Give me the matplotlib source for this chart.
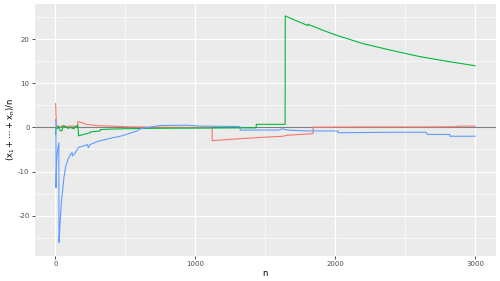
import matplotlib
matplotlib.use('Agg')
import matplotlib.pyplot as plt
from matplotlib.ticker import MultipleLocator

# running means: (n, mean)
red_n = [1, 3, 6, 10, 15, 20, 30, 50, 80, 120, 158, 159, 200, 215, 250, 300, 400,
         500, 700, 900, 1120, 1121, 1300, 1500, 1629, 1650, 1842, 1843, 2200, 2600,
         2860, 2880, 3000]
red_y = [5.4, 3.5, 1.0, 0.2, -0.2, 0.3, 0.1, 0.4, 0.2, 0.3, 0.2, 1.3, 1.0, 0.7, 0.6,
         0.4, 0.3, 0.15, 0.05, 0.0, -0.05, -3.0, -2.6, -2.2, -2.0, -1.8, -1.4, 0.05,
         0.1, 0.1, 0.15, 0.3, 0.3]

green_n = [1, 4, 10, 20, 30, 45, 55, 70, 90, 110, 130, 150, 160, 165, 200, 249, 250,
           320, 321, 370, 500, 700, 1000, 1300, 1435, 1436, 1642, 1643, 1700, 1805,
           1806, 1900, 2000, 2200, 2400, 2600, 2800, 3000]
green_y = [-1.6, 0.0, -0.3, 0.3, -0.6, -0.8, 0.4, 0.2, -0.2, 0.0, -0.3, 0.3, 0.5,
           -1.9, -1.6, -1.2, -1.0, -0.8, -0.5, -0.4, -0.3, -0.2, -0.15, -0.1, -0.1,
           0.7, 0.7, 25.3, 24.5, 23.1, 23.4, 22.2, 21.0, 19.0, 17.5, 16.1, 15.0, 14.0]

blue_n = [1, 3, 4, 8, 15, 24, 25, 30, 40, 48, 60, 71, 90, 107, 119, 120, 143, 166,
          200, 226, 236, 245, 309, 400, 464, 583, 607, 750, 940, 1036, 1320, 1321,
          1600, 1620, 1660, 1800, 2020, 2021, 2400, 2650, 2660, 2820, 2821, 3000]
blue_y = [1.8, 1.0, -13.7, -8.0, -5.0, -3.5, -26.1, -23.5, -17.8, -15.2, -11.5, -9.1,
          -7.2, -6.1, -5.7, -6.5, -5.7, -4.5, -4.2, -3.9, -4.6, -3.9, -3.1, -2.4,
          -2.0, -0.8, -0.3, 0.45, 0.5, 0.3, 0.2, -0.6, -0.6, -0.3, -0.6, -0.8, -0.8,
          -1.2, -1.1, -1.1, -1.6, -1.6, -2.0, -2.0]

x_ticks = [0, 1000, 2000, 3000]
y_ticks = [-20, -10, 0, 10, 20]

fig = plt.figure(figsize=(5, 2.81), dpi=100)
ax = fig.add_axes([0.069, 0.09, 0.923, 0.895])
ax.set_facecolor('#EBEBEB')

ax.set_xlim(-150, 3150)
ax.set_ylim(-29.1, 27.95)
ax.xaxis.set_minor_locator(MultipleLocator(500))
ax.yaxis.set_minor_locator(MultipleLocator(5))
ax.set_xticks(x_ticks)
ax.set_yticks(y_ticks)
ax.set_xticklabels([str(t) for t in x_ticks])
ax.set_yticklabels([str(t) for t in y_ticks])

ax.grid(True, which='major', color='white', linewidth=0.9)
ax.grid(True, which='minor', color='white', linewidth=0.45)
ax.set_axisbelow(True)
for s in ax.spines.values():
    s.set_visible(False)

ax.tick_params(which='major', length=2, width=0.6, color='#333333',
               labelsize=5, labelcolor='#4D4D4D', pad=1.5)
ax.tick_params(which='minor', length=0)

ax.axhline(0, color='#7F7F7F', linewidth=0.8, zorder=1)

ax.plot(red_n, red_y, color='#F8766D', linewidth=0.8, zorder=2)
ax.plot(green_n, green_y, color='#00BA38', linewidth=0.8, zorder=2)
ax.plot(blue_n, blue_y, color='#619CFF', linewidth=0.8, zorder=2)

ax.set_xlabel('n', fontsize=6, labelpad=2)
ax.set_ylabel(r'$\mathregular{(x_1 + \cdots + x_n)/n}$', fontsize=6, labelpad=1)

fig.savefig('out.png', dpi=100)
